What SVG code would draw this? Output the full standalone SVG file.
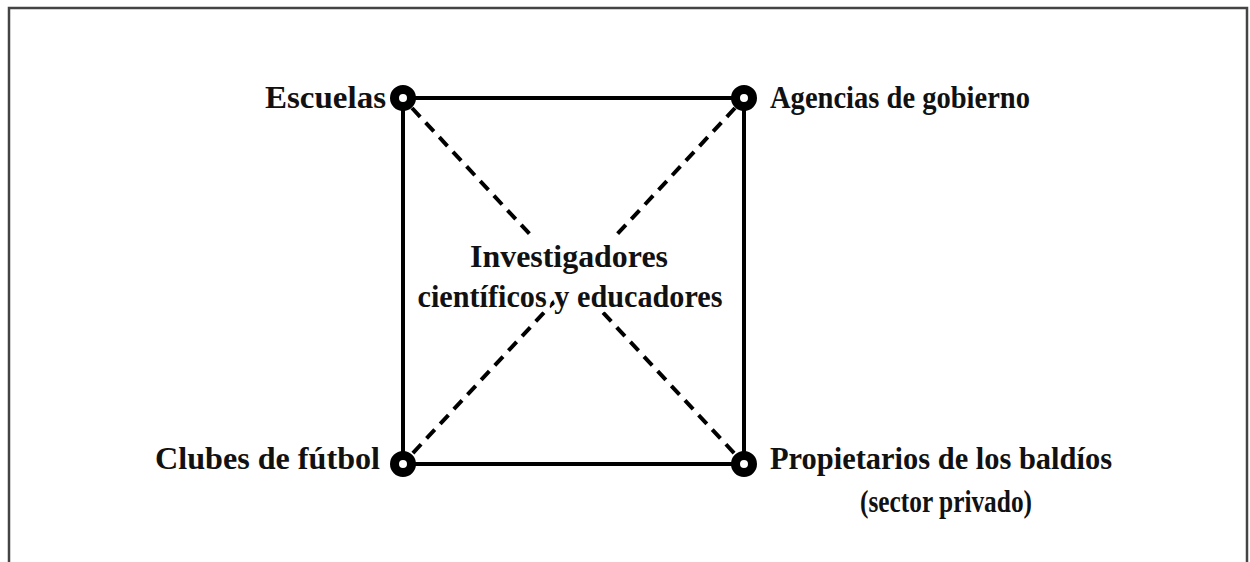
<svg xmlns="http://www.w3.org/2000/svg" width="1250" height="562" viewBox="0 0 1250 562">
<style>
.lbl{font-family:"Liberation Serif","Times New Roman",serif;font-weight:bold;font-size:31px;fill:#111}
.halo{stroke:#fff;stroke-width:9;stroke-linejoin:round;paint-order:stroke}
.side{stroke:#000;stroke-width:4;fill:none}
.diag{stroke:#000;stroke-width:4;stroke-dasharray:12 8;fill:none}
.dot{fill:#fff;stroke:#000;stroke-width:9}
</style>
<rect x="0" y="0" width="1250" height="562" fill="#fff"/>
<path d="M9,570 V8 H1247 V570" fill="none" stroke="#444" stroke-width="2.5"/>
<g id="connectors">
<line class="side" x1="403" y1="98" x2="744" y2="98"/>
<line class="side" x1="744" y1="98" x2="744" y2="464"/>
<line class="side" x1="744" y1="464" x2="403" y2="464"/>
<line class="side" x1="403" y1="464" x2="403" y2="98"/>
<line class="diag" x1="412" y1="108" x2="735" y2="454"/>
<line class="diag" x1="735" y1="108" x2="412" y2="454"/>
</g>
<g id="center">
<rect x="470" y="238" width="200" height="58" fill="#fff"/>
<text class="lbl halo" x="569" y="267" text-anchor="middle" textLength="198" lengthAdjust="spacingAndGlyphs">Investigadores</text>
<text class="lbl halo" x="570" y="307" text-anchor="middle" textLength="305" lengthAdjust="spacingAndGlyphs">científicos y educadores</text>
</g>
<g id="escuelas">
<circle class="dot" cx="403" cy="98" r="8.5"/>
<text class="lbl" x="386" y="108" text-anchor="end" textLength="121" lengthAdjust="spacingAndGlyphs">Escuelas</text>
</g>
<g id="agencias">
<circle class="dot" cx="744" cy="98" r="8.5"/>
<text class="lbl" x="770" y="108" textLength="260" lengthAdjust="spacingAndGlyphs">Agencias de gobierno</text>
</g>
<g id="clubes">
<circle class="dot" cx="403" cy="464" r="8.5"/>
<text class="lbl" x="380" y="469" text-anchor="end" textLength="225" lengthAdjust="spacingAndGlyphs">Clubes de fútbol</text>
</g>
<g id="propietarios">
<circle class="dot" cx="744" cy="464" r="8.5"/>
<text class="lbl" x="770" y="469" textLength="342" lengthAdjust="spacingAndGlyphs">Propietarios de los baldíos</text>
<text class="lbl" x="946" y="512" text-anchor="middle" textLength="172" lengthAdjust="spacingAndGlyphs">(sector privado)</text>
</g>
</svg>
